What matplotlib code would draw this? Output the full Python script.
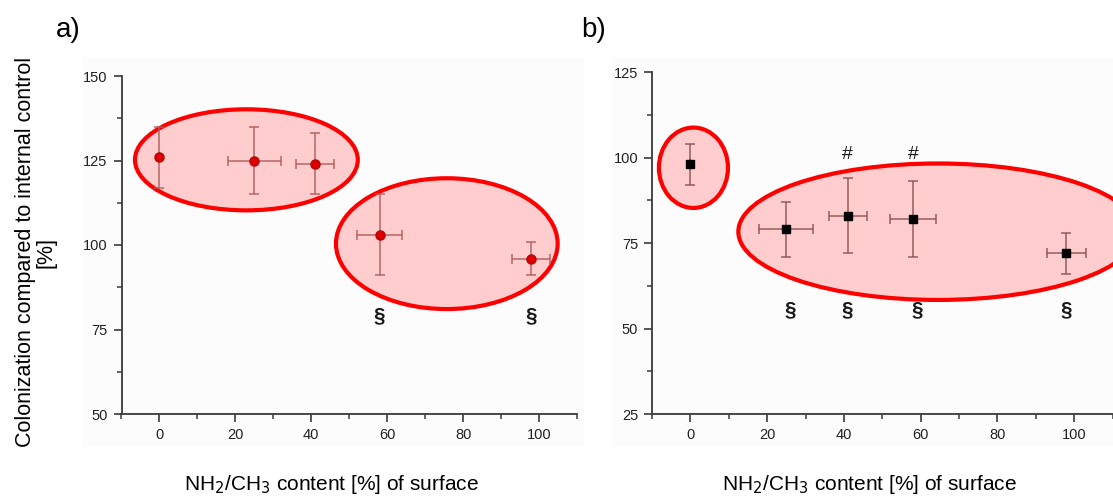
import matplotlib
matplotlib.use("Agg")
import matplotlib.pyplot as plt
from matplotlib.patches import Ellipse, Rectangle
from matplotlib.ticker import MultipleLocator

plt.rcParams['font.family'] = ['Liberation Sans', 'DejaVu Sans']

# ---- data ----
a_x = [0, 25, 41, 58, 98]
a_y = [126, 125, 124, 103, 96]
a_xerr = [0, 7, 5, 6, 5]
a_yerr = [9, 10, 9, 12, 5]
a_sig_x = [58, 98]
a_sig_y = [79, 79]

b_x = [0, 25, 41, 58, 98]
b_y = [98, 79, 83, 82, 72]
b_xerr = [0, 7, 5, 6, 5]
b_yerr = [6, 8, 11, 11, 6]
b_sig_x = [26, 41, 59, 98]
b_sig_y = [55.5, 55.5, 55.5, 55.5]
b_hash_x = [41, 58]
b_hash_y = [101, 101]

xticks = [0, 20, 40, 60, 80, 100]
a_yticks = [50, 75, 100, 125, 150]
b_yticks = [25, 50, 75, 100, 125]

xlabel = "NH$_2$/CH$_3$ content [%] of surface"
ylabel = "Colonization compared to internal control\n[%]"

W, H = 1113, 497
fig = plt.figure(figsize=(W / 100, H / 100), dpi=100)

# very faint panel backgrounds
fig.patches.append(Rectangle((83 / W, 1 - 445 / H), 500 / W, 387 / H,
                             transform=fig.transFigure, color='#fcfcfc', zorder=-10))
fig.patches.append(Rectangle((612 / W, 1 - 445 / H), 501 / W, 387 / H,
                             transform=fig.transFigure, color='#fcfcfc', zorder=-10))

ax1 = fig.add_axes([121.5 / W, (H - 414) / H, 455.5 / W, 338 / H])
ax2 = fig.add_axes([652 / W, (H - 414) / H, 460.5 / W, 342 / H])

ell_fill = '#ffcdcd'
ell_edge = '#ff0000'


def style(ax, ylim, yticks):
    ax.set_xlim(-10, 110)
    ax.set_ylim(*ylim)
    ax.set_xticks(xticks)
    ax.set_yticks(yticks)
    ax.xaxis.set_minor_locator(MultipleLocator(10))
    ax.yaxis.set_minor_locator(MultipleLocator(12.5))
    for s in ['top', 'right']:
        ax.spines[s].set_visible(False)
    for s in ['left', 'bottom']:
        ax.spines[s].set_color('#3a3a3a')
        ax.spines[s].set_linewidth(1.3)
    ax.tick_params(which='major', direction='out', length=6, width=1.2,
                   color='#3a3a3a', labelsize=10.5, labelcolor='#222222', pad=4)
    ax.tick_params(which='minor', direction='out', length=3.5, width=1.1, color='#3a3a3a')
    ax.patch.set_alpha(0)


# Panel a
style(ax1, (50, 150), a_yticks)
for (cx, cy, w, h) in [(22.9, 125.2, 58.7, 29.9), (75.7, 100.4, 58.4, 38.7)]:
    ax1.add_patch(Ellipse((cx, cy), w, h, facecolor=ell_fill, edgecolor=ell_edge,
                          linewidth=3, zorder=1, clip_on=False))
ax1.errorbar(a_x, a_y, xerr=a_xerr, yerr=a_yerr, fmt='none', ecolor='#b05a5a',
             elinewidth=1.1, capsize=3.5, capthick=1.1, alpha=0.9, zorder=2)
ax1.plot(a_x, a_y, 'o', color='#dd0000', markersize=6.5, markeredgecolor='#b80000', zorder=3)
for x, y in zip(a_sig_x, a_sig_y):
    ax1.text(x, y, '§', ha='center', va='center', fontsize=15, fontweight='bold',
             color='#1a1a1a')

# Panel b
style(ax2, (25, 125), b_yticks)
for (cx, cy, w, h) in [(0.8, 97.0, 18, 23.5), (64.5, 78.3, 104, 39.9)]:
    ax2.add_patch(Ellipse((cx, cy), w, h, facecolor=ell_fill, edgecolor=ell_edge,
                          linewidth=3, zorder=1, clip_on=False))
ax2.errorbar(b_x, b_y, xerr=b_xerr, yerr=b_yerr, fmt='none', ecolor='#8a5050',
             elinewidth=1.1, capsize=3.5, capthick=1.1, alpha=0.9, zorder=2)
ax2.plot(b_x, b_y, 's', color='black', markersize=6, zorder=3)
for x, y in zip(b_sig_x, b_sig_y):
    ax2.text(x, y, '§', ha='center', va='center', fontsize=15, fontweight='bold',
             color='#1a1a1a')
for x, y in zip(b_hash_x, b_hash_y):
    ax2.text(x, y, '#', ha='center', va='center', fontsize=14, color='#1a1a1a')

# labels
fig.text(331.5 / W, 1 - 484 / H, xlabel, ha='center', va='center', fontsize=15)
fig.text(869.5 / W, 1 - 484 / H, xlabel, ha='center', va='center', fontsize=15)
fig.text(36 / W, 1 - 252 / H, ylabel, ha='center', va='center', rotation=90,
         fontsize=15.5, linespacing=1.0)
fig.text(56 / W, 1 - 30 / H, 'a)', ha='left', va='center', fontsize=20)
fig.text(581 / W, 1 - 30 / H, 'b)', ha='left', va='center', fontsize=20)

fig.savefig('out.png', dpi=100)
